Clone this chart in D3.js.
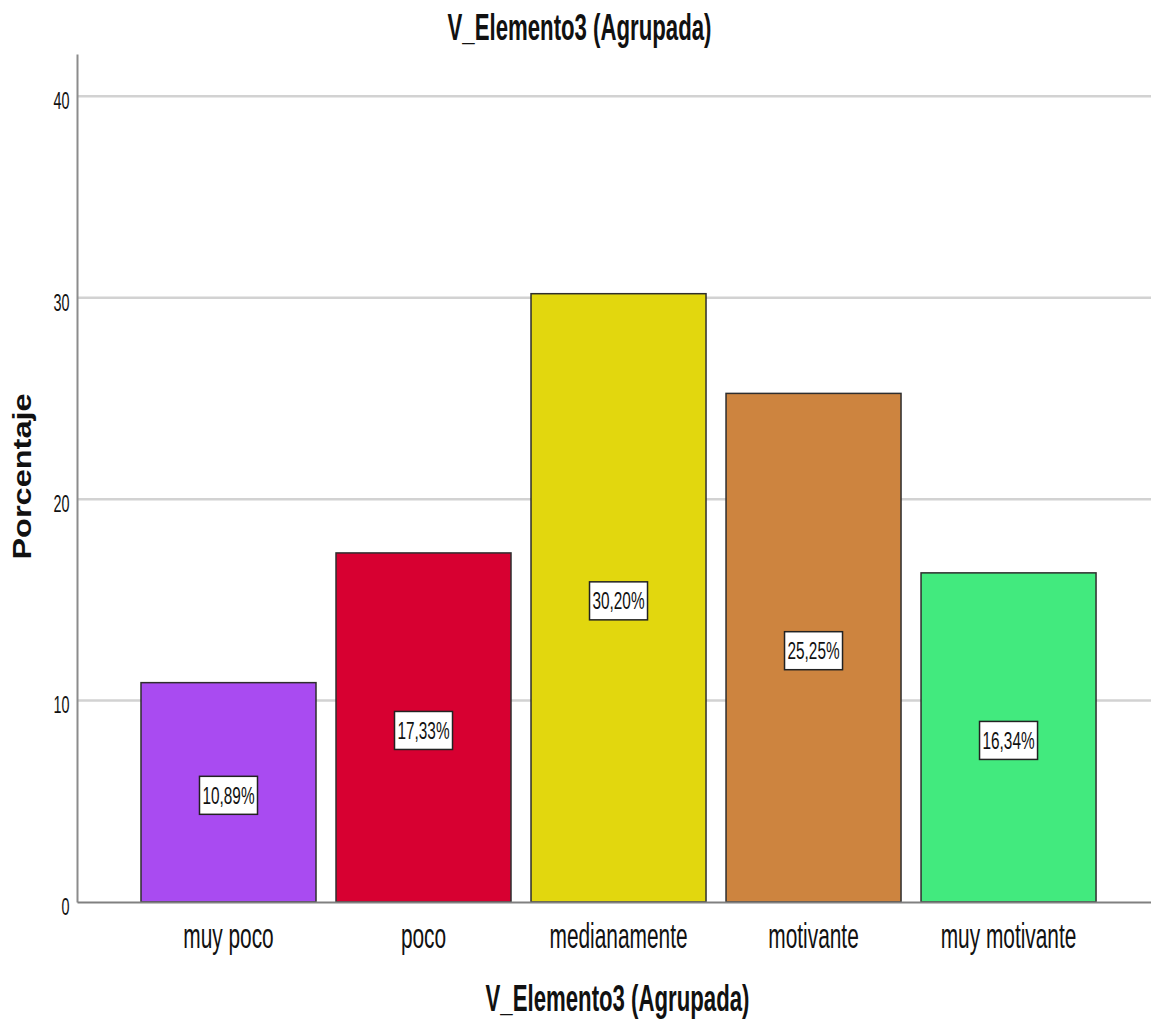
<!DOCTYPE html>
<html>
<head>
<meta charset="utf-8">
<script src="https://cdn.jsdelivr.net/npm/d3@7"></script>
<style>
  html, body { margin: 0; padding: 0; background: #fff; }
  svg { display: block; }
  text { font-family: "Liberation Sans", Arial, sans-serif; fill: #111; }
</style>
</head>
<body>
<svg id="chart" width="1151" height="1024"></svg>
<script>
// Percentage of responses per group of V_Elemento3
const categories = ["muy poco", "poco", "medianamente", "motivante", "muy motivante"];
const percentages = [10.89, 17.33, 30.20, 25.25, 16.34];
const barColors = ["#a94bf1", "#d70031", "#e2d70e", "#cd843f", "#42ea7e"];
const yTicks = [0, 10, 20, 30, 40];
const chartTitle = "V_Elemento3 (Agrupada)";
const xTitle = "V_Elemento3 (Agrupada)";
const yTitle = "Porcentaje";

const svg = d3.select("#chart");
const plot = { left: 77, right: 1151, top: 54, bottom: 902 };

const x = d3.scaleBand()
  .domain(categories)
  .range([plot.left, plot.right])
  .paddingInner(0.1026)
  .paddingOuter(0.305)
  .align(0.538);

const y = d3.scaleLinear()
  .domain([0, 42.1])
  .range([plot.bottom, plot.top]);

const fmt = v => d3.format(".2f")(v).replace(".", ",") + "%";

// horizontal gridlines
svg.append("g")
  .selectAll("line")
  .data(yTicks.filter(t => t > 0))
  .join("line")
  .attr("x1", plot.left).attr("x2", plot.right)
  .attr("y1", d => y(d)).attr("y2", d => y(d))
  .attr("stroke", "#d2d2d2")
  .attr("stroke-width", 2.5);

// bars
svg.append("g")
  .selectAll("rect")
  .data(categories)
  .join("rect")
  .attr("x", d => x(d))
  .attr("y", (d, i) => y(percentages[i]))
  .attr("width", x.bandwidth())
  .attr("height", (d, i) => y(0) - y(percentages[i]))
  .attr("fill", (d, i) => barColors[i])
  .attr("stroke", "#2e2e2e")
  .attr("stroke-width", 1.5);

// y axis
const yAxis = svg.append("g")
  .attr("transform", `translate(${plot.left},0)`)
  .call(d3.axisLeft(y).tickValues(yTicks).tickSize(0).tickSizeOuter(0).tickFormat(d3.format("d")));
yAxis.select(".domain").attr("stroke", "#8c8c8c").attr("stroke-width", 2);
yAxis.selectAll(".tick text")
  .attr("x", null)
  .attr("dy", "0.35em")
  .attr("transform", "translate(-7.5,4) scale(0.6,1)")
  .attr("text-anchor", "end")
  .attr("font-size", 24)
  .attr("font-family", "'Liberation Sans', Arial, sans-serif")
  .attr("fill", "#111");

// x axis
const xAxis = svg.append("g")
  .attr("transform", `translate(0,${plot.bottom})`)
  .call(d3.axisBottom(x).tickSize(0).tickSizeOuter(0));
xAxis.select(".domain").attr("stroke", "#808080").attr("stroke-width", 2);
xAxis.selectAll(".tick text")
  .attr("y", null)
  .attr("dy", null)
  .attr("transform", "translate(0,46) scale(0.58,1)")
  .attr("font-size", 36)
  .attr("font-family", "'Liberation Sans', Arial, sans-serif")
  .attr("fill", "#222");

// value labels in the middle of each bar
const labels = svg.append("g")
  .selectAll("g")
  .data(categories)
  .join("g")
  .attr("transform", (d, i) => `translate(${x(d) + x.bandwidth() / 2},${(y(0) + y(percentages[i])) / 2 + 3})`);
labels.append("rect")
  .attr("x", -29).attr("y", -19)
  .attr("width", 58).attr("height", 38)
  .attr("fill", "#fff")
  .attr("stroke", "#222")
  .attr("stroke-width", 1.5);
labels.append("text")
  .attr("text-anchor", "middle")
  .attr("dy", "0.35em")
  .attr("font-size", 24)
  .attr("transform", "scale(0.64,1)")
  .text((d, i) => fmt(percentages[i]));

// titles
svg.append("text")
  .attr("transform", "translate(579.5,40) scale(0.6,1)")
  .attr("text-anchor", "middle")
  .attr("font-size", 37)
  .attr("font-weight", "bold")
  .text(chartTitle);

svg.append("text")
  .attr("transform", "translate(617.5,1011) scale(0.6,1)")
  .attr("text-anchor", "middle")
  .attr("font-size", 37)
  .attr("font-weight", "bold")
  .text(xTitle);

svg.append("text")
  .attr("transform", "translate(31,476.5) rotate(-90) scale(1.3,1)")
  .attr("text-anchor", "middle")
  .attr("font-size", 25)
  .attr("font-weight", "bold")
  .text(yTitle);
</script>
</body>
</html>
